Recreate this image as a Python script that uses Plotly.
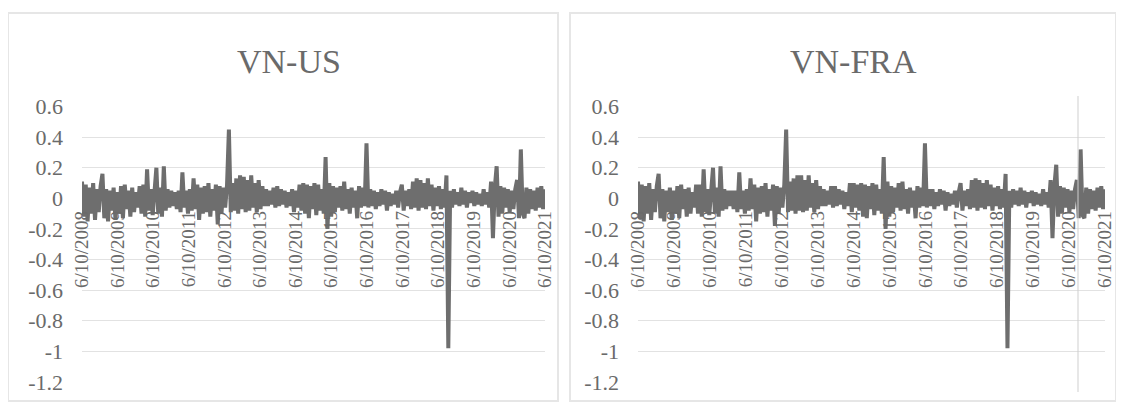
import pandas as pd
import plotly.graph_objects as go

# page is 1124x410; the plot div sits 8px in from the top-left (default body margin)
PAGE_W, PAGE_H = 1124, 410
OFF = 8
W, H = PAGE_W - 2 * OFF, PAGE_H - 2 * OFF

panel_titles = ["VN-US", "VN-FRA"]
start_date = "2008-06-10"
end_date = "2021-06-10"
tick_years = list(range(2008, 2022))
tick_labels = ["6/10/%d" % y for y in tick_years]
y_ticks = [0.6, 0.4, 0.2, 0, -0.2, -0.4, -0.6, -0.8, -1, -1.2]
y_tick_text = ["0.6", "0.4", "0.2", "0", "-0.2", "-0.4", "-0.6", "-0.8", "-1", "-1.2"]

vn_us = [
    0.11, -0.12, 0.09, -0.15, 0.07, -0.10, 0.10, -0.14, 0.06, -0.09,
    0.08, 0.16, -0.13, 0.06, -0.15, 0.05, -0.08, 0.07, -0.14, 0.04,
    -0.10, 0.08, -0.13, 0.09, -0.07, 0.05, -0.12, 0.07, -0.09, 0.04,
    -0.06, 0.08, -0.10, 0.09, -0.12, 0.19, -0.08, 0.06, -0.11, 0.04,
    0.20, -0.10, 0.07, -0.12, 0.21, -0.08, 0.06, -0.06, 0.05, -0.05,
    0.04, -0.07, 0.05, -0.09, 0.17, -0.06, 0.05, -0.10, 0.06, -0.08,
    0.13, -0.07, 0.09, -0.14, 0.07, -0.10, 0.08, -0.09, 0.10, -0.12,
    0.06, -0.08, 0.09, -0.17, 0.08, -0.10, 0.07, -0.06, 0.09, 0.45,
    -0.09, 0.10, -0.08, 0.13, -0.10, 0.15, -0.07, 0.14, -0.09, 0.12,
    -0.08, 0.15, -0.06, 0.10, -0.09, 0.12, -0.07, 0.08, -0.05, 0.06,
    -0.05, 0.05, -0.04, 0.07, -0.06, 0.08, -0.05, 0.06, -0.04, 0.05,
    -0.06, 0.04, -0.05, 0.06, -0.09, 0.05, -0.06, 0.09, -0.08, 0.10,
    -0.10, 0.09, -0.13, 0.08, -0.07, 0.10, -0.11, 0.09, -0.08, 0.06,
    -0.10, 0.27, -0.20, 0.10, -0.12, 0.08, -0.09, 0.07, -0.06, 0.08,
    -0.08, 0.11, -0.07, 0.06, -0.10, 0.07, -0.06, 0.05, -0.13, 0.08,
    -0.06, 0.07, -0.05, 0.36, -0.06, 0.06, -0.05, 0.05, -0.07, 0.04,
    -0.05, 0.06, -0.04, 0.05, -0.08, 0.04, -0.05, 0.03, -0.04, 0.05,
    -0.06, 0.04, 0.09, -0.08, 0.05, -0.05, 0.06, -0.07, 0.11, -0.06,
    0.13, -0.08, 0.12, -0.06, 0.10, -0.07, 0.13, -0.05, 0.09, -0.08,
    0.07, -0.05, 0.08, -0.07, 0.06, -0.06, 0.15, -0.98, 0.05, -0.06,
    0.06, -0.04, 0.04, -0.05, 0.07, -0.04, 0.05, -0.06, 0.04, -0.03,
    0.05, -0.05, 0.04, -0.04, 0.03, -0.05, 0.06, -0.04, 0.04, -0.06,
    0.11, -0.26, 0.07, 0.21, -0.12, 0.08, -0.10, 0.07, -0.06, 0.06,
    -0.09, 0.05, -0.07, 0.06, 0.12, -0.13, 0.32, -0.10, -0.13, 0.07,
    -0.10, 0.06, -0.07, 0.05, -0.08, 0.07, -0.06, 0.08, -0.07, 0.06,
]

vn_fra = [
    0.11, -0.13, 0.09, -0.15, 0.08, -0.10, 0.10, -0.14, 0.06, -0.09,
    0.08, 0.16, -0.13, 0.06, -0.15, 0.05, -0.09, 0.07, -0.14, 0.05,
    -0.10, 0.08, -0.13, 0.09, -0.07, 0.06, -0.12, 0.07, -0.10, 0.04,
    -0.06, 0.09, -0.10, 0.09, -0.12, 0.19, -0.09, 0.06, -0.11, 0.05,
    0.20, -0.10, 0.07, -0.12, 0.21, -0.08, 0.06, -0.07, 0.05, -0.05,
    0.05, -0.07, 0.05, -0.09, 0.17, -0.07, 0.05, -0.10, 0.06, -0.08,
    0.13, -0.07, 0.09, -0.15, 0.07, -0.10, 0.08, -0.09, 0.10, -0.12,
    0.06, -0.08, 0.09, -0.18, 0.08, -0.10, 0.07, -0.06, 0.09, 0.45,
    -0.09, 0.11, -0.08, 0.13, -0.10, 0.15, -0.08, 0.15, -0.09, 0.12,
    -0.08, 0.15, -0.06, 0.10, -0.09, 0.12, -0.07, 0.08, -0.05, 0.06,
    -0.05, 0.05, -0.04, 0.08, -0.06, 0.08, -0.05, 0.06, -0.04, 0.05,
    -0.07, 0.04, -0.05, 0.10, -0.09, 0.10, -0.06, 0.09, -0.08, 0.10,
    -0.12, 0.09, -0.13, 0.08, -0.07, 0.10, -0.11, 0.09, -0.08, 0.06,
    -0.10, 0.27, -0.20, 0.11, -0.12, 0.08, -0.09, 0.07, -0.06, 0.10,
    -0.08, 0.11, -0.07, 0.06, -0.10, 0.07, -0.06, 0.05, -0.13, 0.08,
    -0.06, 0.07, -0.05, 0.36, -0.06, 0.06, -0.05, 0.06, -0.07, 0.04,
    -0.05, 0.06, -0.04, 0.05, -0.08, 0.04, -0.05, 0.03, -0.04, 0.05,
    -0.06, 0.04, 0.10, -0.08, 0.05, -0.05, 0.06, -0.07, 0.12, -0.06,
    0.13, -0.08, 0.12, -0.06, 0.10, -0.07, 0.12, -0.05, 0.09, -0.08,
    0.07, -0.05, 0.08, -0.07, 0.06, -0.06, 0.16, -0.98, 0.05, -0.06,
    0.06, -0.04, 0.05, -0.05, 0.07, -0.04, 0.05, -0.06, 0.04, -0.03,
    0.05, -0.05, 0.04, -0.04, 0.03, -0.05, 0.06, -0.04, 0.04, -0.06,
    0.12, -0.26, 0.08, 0.22, -0.12, 0.08, -0.10, 0.07, -0.06, 0.06,
    -0.09, 0.05, -0.07, 0.06, 0.12, -0.13, 0.32, -0.11, -0.13, 0.07,
    -0.10, 0.06, -0.07, 0.05, -0.08, 0.07, -0.06, 0.08, -0.07, 0.06,
]

dates_us = pd.date_range(start_date, end_date, periods=len(vn_us))
dates_fra = pd.date_range(start_date, end_date, periods=len(vn_fra))
tick_dates = [pd.Timestamp("%d-06-10" % y) for y in tick_years]

LINE = "#6e6e6e"
TXT = "#6a6a6a"
GRID = "#e2e2e2"
FONT = "Liberation Serif"

def px(x):
    # page pixel -> paper fraction
    return (x - OFF) / W

def py(y):
    return 1 - (y - OFF) / H

# plot areas (page pixels)
plots = [(82, 545), (638, 1105)]
y_top, y_bot = 106, 382.5
ymin, ymax = -1.2, 0.6
y_zero_px = y_top + (ymax - 0) / (ymax - ymin) * (y_bot - y_top)

fig = go.Figure()
fig.add_trace(go.Scatter(x=dates_us, y=vn_us, mode="lines",
                         line=dict(color=LINE, width=4), xaxis="x", yaxis="y",
                         showlegend=False))
fig.add_trace(go.Scatter(x=dates_fra, y=vn_fra, mode="lines",
                         line=dict(color=LINE, width=4), xaxis="x2", yaxis="y2",
                         showlegend=False))

xcommon = dict(type="date", range=[start_date, end_date], tickvals=tick_dates,
               ticktext=tick_labels, tickangle=-90, showgrid=False, zeroline=False,
               showline=False, ticks="", anchor="free", position=py(y_zero_px),
               automargin=False,
               tickfont=dict(family=FONT, size=19, color=TXT), ticklabelstandoff=8)
ycommon = dict(range=[ymin - 0.004, ymax + 0.004], tickvals=y_ticks, ticktext=y_tick_text,
               showgrid=True, gridcolor=GRID, gridwidth=1, zeroline=False,
               showline=False, ticks="", ticklabelstandoff=18, automargin=False,
               tickfont=dict(family=FONT, size=22, color=TXT))

ydom = [py(y_bot), py(y_top)]
fig.update_layout(
    template=None,
    width=W, height=H, margin=dict(l=0, r=0, t=0, b=0, autoexpand=False),
    paper_bgcolor="white", plot_bgcolor="rgba(0,0,0,0)",
    font=dict(family=FONT, color=TXT),
    xaxis=dict(domain=[px(plots[0][0]), px(plots[0][1])], **xcommon),
    yaxis=dict(domain=ydom, anchor="x", **ycommon),
    xaxis2=dict(domain=[px(plots[1][0]), px(plots[1][1])], **xcommon),
    yaxis2=dict(domain=ydom, anchor="x2", **ycommon),
)

shapes = []
for (x0, x1) in [(8, 558), (570, 1116)]:
    shapes.append(dict(type="rect", xref="paper", yref="paper", layer="below",
                       x0=px(x0), x1=px(x1), y0=py(401), y1=py(13),
                       line=dict(color="#e6e6e6", width=2), fillcolor="white"))
# faint vertical scan line in the right panel
shapes.append(dict(type="line", xref="paper", yref="paper", layer="above",
                   x0=px(1078), x1=px(1078), y0=py(392), y1=py(96),
                   line=dict(color="#cfcfcf", width=1)))
fig.update_layout(shapes=shapes)

for title, cx in zip(panel_titles, [289, 853]):
    fig.add_annotation(text=title, xref="paper", yref="paper", x=px(cx), y=py(61),
                       xanchor="center", yanchor="middle", showarrow=False,
                       font=dict(family=FONT, size=34, color=TXT))

fig.write_html("out.html")
